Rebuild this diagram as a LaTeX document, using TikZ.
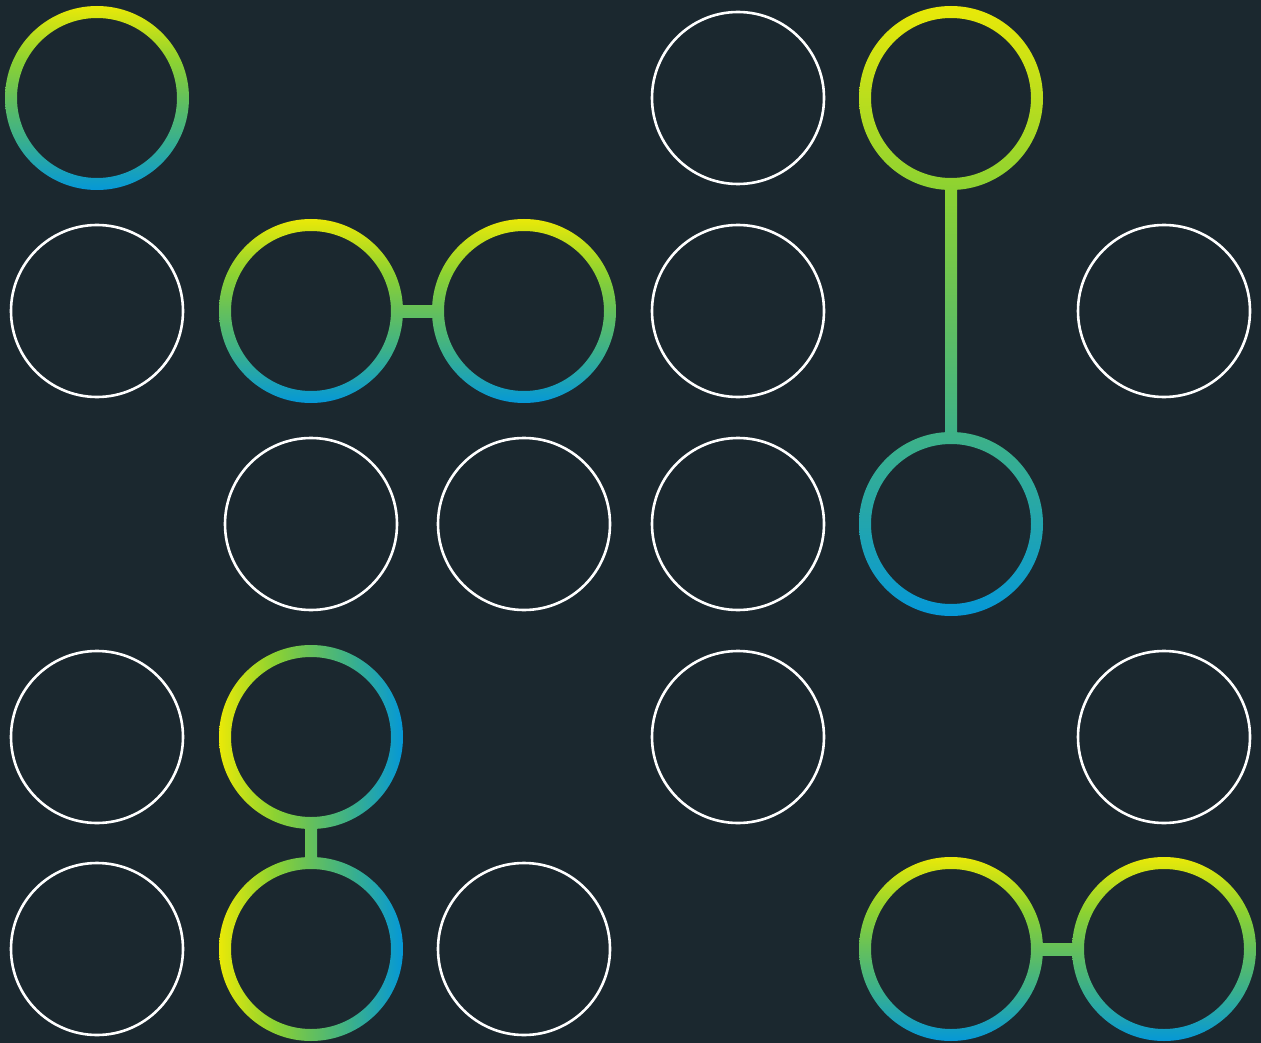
\documentclass[tikz,border=0pt]{standalone}
\usetikzlibrary{calc}
\definecolor{bg}{RGB}{27,40,47}
\definecolor{gy}{RGB}{233,233,8}
\definecolor{gg}{RGB}{140,210,50}
\definecolor{gm}{RGB}{100,192,92}
\definecolor{gt}{RGB}{58,176,140}
\definecolor{gb}{RGB}{5,152,215}
\pgfdeclareverticalshading{gradv}{100bp}{color(0bp)=(gb); color(25bp)=(gb); color(39bp)=(gt); color(50bp)=(gm); color(60bp)=(gg); color(75bp)=(gy); color(100bp)=(gy)}
\pgfdeclarehorizontalshading{gradh}{100bp}{color(0bp)=(gy); color(25bp)=(gy); color(40bp)=(gg); color(50bp)=(gm); color(61bp)=(gt); color(75bp)=(gb); color(100bp)=(gb)}
% ring: #1 centre, #2 shading, #3 #4 group box corners
\newcommand\gring[4]{\begin{scope}[even odd rule]\clip #1 circle (92) #1 circle (80);\shade[shading=#2] #3 rectangle #4;\end{scope}}
% bar: #1 #2 bar corners, #3 shading, #4 #5 group box corners
\newcommand\gbar[5]{\begin{scope}\clip #1 rectangle #2;\shade[shading=#3] #4 rectangle #5;\end{scope}}
\tikzset{wc/.style={circle, draw=white, line width=2.6pt, minimum size=172pt, inner sep=0pt}}
\begin{document}
\begin{tikzpicture}[x=1pt,y=-1pt]
\fill[bg] (0,0) rectangle (1261,1043);
\useasboundingbox (0,0) rectangle (1261,1043);
% white circles
\node[wc] (w1) at (738,98) {};
\node[wc] (w2) at (97,311) {};
\node[wc] (w3) at (738,311) {};
\node[wc] (w4) at (1164,311) {};
\node[wc] (w5) at (311,524) {};
\node[wc] (w6) at (524,524) {};
\node[wc] (w7) at (738,524) {};
\node[wc] (w8) at (97,737) {};
\node[wc] (w9) at (738,737) {};
\node[wc] (w10) at (1164,737) {};
\node[wc] (w11) at (97,949) {};
\node[wc] (w12) at (524,949) {};
% gradient groups
\coordinate (a) at (97,98);
\gring{(a)}{gradv}{(5,6)}{(189,190)}
\coordinate (b1) at (311,311);
\coordinate (b2) at (524,311);
\gring{(b1)}{gradv}{(219,219)}{(616,403)}
\gring{(b2)}{gradv}{(219,219)}{(616,403)}
\gbar{($(b1)+(85,-6)$)}{($(b2)+(-85,6)$)}{gradv}{(219,219)}{(616,403)}
\coordinate (c1) at (951,98);
\coordinate (c2) at (951,524);
\gring{(c1)}{gradv}{(859,6)}{(1043,616)}
\gring{(c2)}{gradv}{(859,6)}{(1043,616)}
\gbar{($(c1)+(-6,85)$)}{($(c2)+(6,-85)$)}{gradv}{(859,6)}{(1043,616)}
\coordinate (d1) at (311,737);
\coordinate (d2) at (311,949);
\gring{(d1)}{gradh}{(219,645)}{(403,1041)}
\gring{(d2)}{gradh}{(219,645)}{(403,1041)}
\gbar{($(d1)+(-6,85)$)}{($(d2)+(6,-85)$)}{gradh}{(219,645)}{(403,1041)}
\coordinate (e1) at (951,949);
\coordinate (e2) at (1164,949);
\gring{(e1)}{gradv}{(859,857)}{(1256,1041)}
\gring{(e2)}{gradv}{(859,857)}{(1256,1041)}
\gbar{($(e1)+(85,-6)$)}{($(e2)+(-85,6)$)}{gradv}{(859,857)}{(1256,1041)}
\end{tikzpicture}
\end{document}
